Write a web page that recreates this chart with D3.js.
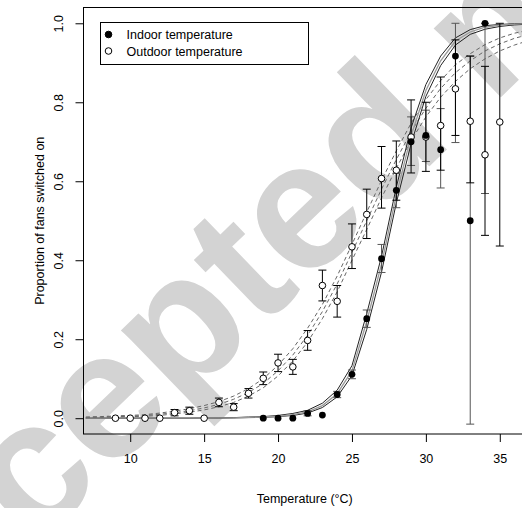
<!DOCTYPE html>
<html>
<head>
<meta charset="utf-8">
<script src="https://cdn.jsdelivr.net/npm/d3@7"></script>
<style>
  body { margin: 0; background: #fff; }
  svg { display: block; font-family: "Liberation Sans", Arial, sans-serif; }
</style>
</head>
<body>
<div id="chart"></div>
<script>
const outdoorTemps = [9, 10, 11, 12, 13, 14, 15, 16, 17, 18, 19, 20, 21, 22, 23, 24, 25, 26, 27, 28, 29, 30, 31, 32, 33, 34, 35];
const outdoorProp  = [0, 0, 0, 0, 0.014, 0.019, 0, 0.040, 0.028, 0.063, 0.101, 0.140, 0.130, 0.197, 0.336, 0.296, 0.434, 0.516, 0.607, 0.628, 0.712, 0.712, 0.741, 0.834, 0.752, 0.667, 0.750];
const outdoorLow   = [0, 0, 0, 0, 0.006, 0.010, 0, 0.029, 0.019, 0.051, 0.085, 0.118, 0.111, 0.172, 0.297, 0.256, 0.379, 0.455, 0.532, 0.552, 0.621, 0.625, 0.628, 0.716, 0.596, 0.463, 0.436];
const outdoorHigh  = [0, 0, 0, 0, 0.022, 0.028, 0, 0.051, 0.037, 0.075, 0.117, 0.162, 0.149, 0.222, 0.375, 0.336, 0.492, 0.580, 0.688, 0.702, 0.806, 0.800, 0.864, 0.958, 0.917, 0.891, 1.000];

const indoorTemps = [19, 20, 21, 22, 23, 24, 25, 26, 27, 28, 29, 30, 31, 32, 33, 34];
const indoorProp  = [0, 0, 0, 0.012, 0.008, 0.060, 0.111, 0.252, 0.404, 0.577, 0.700, 0.716, 0.680, 0.917, 0.500, 1.000];
const indoorLow   = [0, 0, 0, 0.006, 0.008, 0.052, 0.100, 0.230, 0.369, 0.533, 0.640, 0.650, 0.583, 0.698, -0.015, 0.569];
const indoorHigh  = [0, 0, 0, 0.019, 0.008, 0.068, 0.122, 0.274, 0.440, 0.620, 0.763, 0.780, 0.784, 1.000, 0.917, 1.000];

// fitted curves with their confidence bounds
const fitTemps = [7, 8, 9, 10, 11, 12, 13, 14, 15, 16, 17, 18, 19, 20, 21, 22, 23, 24, 25, 26, 27, 28, 29, 30, 31, 32, 33, 34, 35, 36, 37];
const indoorFit   = [0, 0, 0, 0, 0, 0, 0, 0, 0.0005, 0.0008, 0.001, 0.002, 0.003, 0.005, 0.009, 0.016, 0.032, 0.062, 0.120, 0.245, 0.390, 0.565, 0.715, 0.830, 0.905, 0.955, 0.978, 0.990, 0.995, 0.998, 0.999];
const indoorFitLo = [0, 0, 0, 0, 0, 0, 0, 0, 0.0003, 0.0005, 0.0008, 0.0015, 0.002, 0.004, 0.007, 0.013, 0.027, 0.054, 0.108, 0.225, 0.370, 0.545, 0.695, 0.815, 0.893, 0.945, 0.972, 0.985, 0.992, 0.996, 0.998];
const indoorFitHi = [0, 0, 0, 0, 0, 0, 0, 0, 0.0008, 0.001, 0.0015, 0.003, 0.004, 0.007, 0.012, 0.020, 0.038, 0.071, 0.133, 0.265, 0.410, 0.585, 0.735, 0.845, 0.917, 0.963, 0.984, 0.994, 0.997, 0.999, 1.000];
const outdoorFit   = [0.002, 0.003, 0.004, 0.005, 0.007, 0.010, 0.014, 0.019, 0.026, 0.035, 0.048, 0.065, 0.088, 0.120, 0.160, 0.210, 0.270, 0.340, 0.420, 0.500, 0.580, 0.655, 0.725, 0.785, 0.835, 0.875, 0.905, 0.930, 0.948, 0.962, 0.972];
const outdoorFitLo = [0.001, 0.002, 0.003, 0.004, 0.005, 0.007, 0.011, 0.015, 0.021, 0.029, 0.040, 0.056, 0.077, 0.107, 0.145, 0.193, 0.252, 0.320, 0.400, 0.478, 0.558, 0.633, 0.703, 0.763, 0.813, 0.853, 0.885, 0.910, 0.930, 0.945, 0.957];
const outdoorFitHi = [0.003, 0.004, 0.006, 0.007, 0.009, 0.013, 0.018, 0.024, 0.032, 0.042, 0.056, 0.075, 0.100, 0.134, 0.176, 0.228, 0.288, 0.360, 0.440, 0.522, 0.602, 0.677, 0.747, 0.807, 0.855, 0.895, 0.923, 0.946, 0.963, 0.975, 0.983];

const xTicks = [10, 15, 20, 25, 30, 35];
const yTicks = [0, 0.2, 0.4, 0.6, 0.8, 1.0];
const legendLabels = ["Indoor temperature", "Outdoor temperature"];

const W = 522, H = 508;
const plot = { left: 83.5, right: 523, top: 7.5, bottom: 434 };

const svg = d3.select("#chart").append("svg")
    .attr("width", W)
    .attr("height", H);

const x = d3.scaleLinear().domain([6.84, 36.57]).range([plot.left, plot.right]);
const y = d3.scaleLinear().domain([-0.04, 1.04]).range([plot.bottom, plot.top]);

// watermark behind everything
svg.append("text")
    .attr("transform", "translate(488,22) rotate(-44)")
    .attr("text-anchor", "middle")
    .attr("dominant-baseline", "central")
    .attr("font-size", 182)
    .attr("font-weight", "bold")
    .attr("fill", "#d3d3d3")
    .text("Accepted manuscript");

svg.append("clipPath").attr("id", "clip")
    .append("rect")
    .attr("x", plot.left).attr("y", plot.top)
    .attr("width", plot.right - plot.left).attr("height", plot.bottom - plot.top);

const g = svg.append("g").attr("clip-path", "url(#clip)");

// fitted curves
const line = d3.line().x((d, i) => x(fitTemps[i])).y(d => y(d));

[outdoorFitLo, outdoorFitHi, outdoorFit].forEach(s => {
    g.append("path")
        .attr("d", line(s))
        .attr("fill", "none")
        .attr("stroke", "#666")
        .attr("stroke-width", 1)
        .attr("stroke-dasharray", "4,3");
});

[indoorFitLo, indoorFitHi].forEach(s => {
    g.append("path")
        .attr("d", line(s))
        .attr("fill", "none")
        .attr("stroke", "#222")
        .attr("stroke-width", 1);
});
g.append("path")
    .attr("d", line(indoorFit))
    .attr("fill", "none")
    .attr("stroke", "#999")
    .attr("stroke-width", 1.3);

// error bars
function errorBars(temps, lo, hi, colour) {
    const bars = g.append("g").attr("stroke", colour).attr("stroke-width", 1).attr("fill", "none");
    temps.forEach((t, i) => {
        if (hi[i] - lo[i] <= 0) return;
        const cx = x(t);
        bars.append("line").attr("x1", cx).attr("x2", cx).attr("y1", y(lo[i])).attr("y2", y(hi[i]));
        bars.append("line").attr("x1", cx - 4).attr("x2", cx + 4).attr("y1", y(lo[i])).attr("y2", y(lo[i]));
        bars.append("line").attr("x1", cx - 4).attr("x2", cx + 4).attr("y1", y(hi[i])).attr("y2", y(hi[i]));
    });
}
errorBars(indoorTemps, indoorLow, indoorHigh, "#555");
errorBars(outdoorTemps, outdoorLow, outdoorHigh, "#000");

// points
g.selectAll(".outdoor").data(outdoorTemps).enter()
    .append("circle")
    .attr("class", "outdoor")
    .attr("cx", d => x(d))
    .attr("cy", (d, i) => y(outdoorProp[i]))
    .attr("r", 3.3)
    .attr("fill", "#fff")
    .attr("stroke", "#000")
    .attr("stroke-width", 1);

g.selectAll(".indoor").data(indoorTemps).enter()
    .append("circle")
    .attr("class", "indoor")
    .attr("cx", d => x(d))
    .attr("cy", (d, i) => y(indoorProp[i]))
    .attr("r", 3.4)
    .attr("fill", "#000");

// axes
const xAxis = svg.append("g")
    .attr("transform", `translate(0,${plot.bottom})`)
    .call(d3.axisBottom(x).tickValues(xTicks).tickSize(8).tickPadding(12).tickFormat(d3.format("d")));
xAxis.select(".domain").remove();

const yAxis = svg.append("g")
    .attr("transform", `translate(${plot.left},0)`)
    .call(d3.axisLeft(y).tickValues(yTicks).tickSize(8).tickFormat(d3.format(".1f")));
yAxis.select(".domain").remove();
yAxis.selectAll("text")
    .attr("x", null).attr("dy", null).attr("y", null)
    .attr("text-anchor", "middle")
    .attr("transform", "translate(-21,0) rotate(-90)");

svg.selectAll(".tick text").attr("font-size", 12.5).attr("font-family", "Liberation Sans, Arial, sans-serif").attr("fill", "#000");
svg.selectAll(".tick line").attr("stroke", "#000");

// plot frame
svg.append("rect")
    .attr("x", plot.left).attr("y", plot.top)
    .attr("width", plot.right - plot.left).attr("height", plot.bottom - plot.top)
    .attr("fill", "none")
    .attr("stroke", "#000")
    .attr("stroke-width", 1);

// axis titles
svg.append("text")
    .attr("x", (plot.left + 530) / 2 - 2)
    .attr("y", 503)
    .attr("text-anchor", "middle")
    .attr("font-size", 12.5)
    .text("Temperature (°C)");

svg.append("text")
    .attr("transform", `translate(44,${(plot.top + plot.bottom) / 2}) rotate(-90)`)
    .attr("text-anchor", "middle")
    .attr("font-size", 12.5)
    .text("Proportion of fans switched on");

// legend
const legend = svg.append("g").attr("transform", "translate(100.5,22.5)");
legend.append("rect")
    .attr("width", 208).attr("height", 42)
    .attr("fill", "#fff").attr("stroke", "#000").attr("stroke-width", 1);
legendLabels.forEach((label, i) => {
    legend.append("circle")
        .attr("cx", 8).attr("cy", 12 + i * 16.5)
        .attr("r", 3.3)
        .attr("fill", i === 0 ? "#000" : "#fff")
        .attr("stroke", "#000");
    legend.append("text")
        .attr("x", 26).attr("y", 16.5 + i * 16.5)
        .attr("font-size", 12.5)
        .text(label);
});
</script>
</body>
</html>
